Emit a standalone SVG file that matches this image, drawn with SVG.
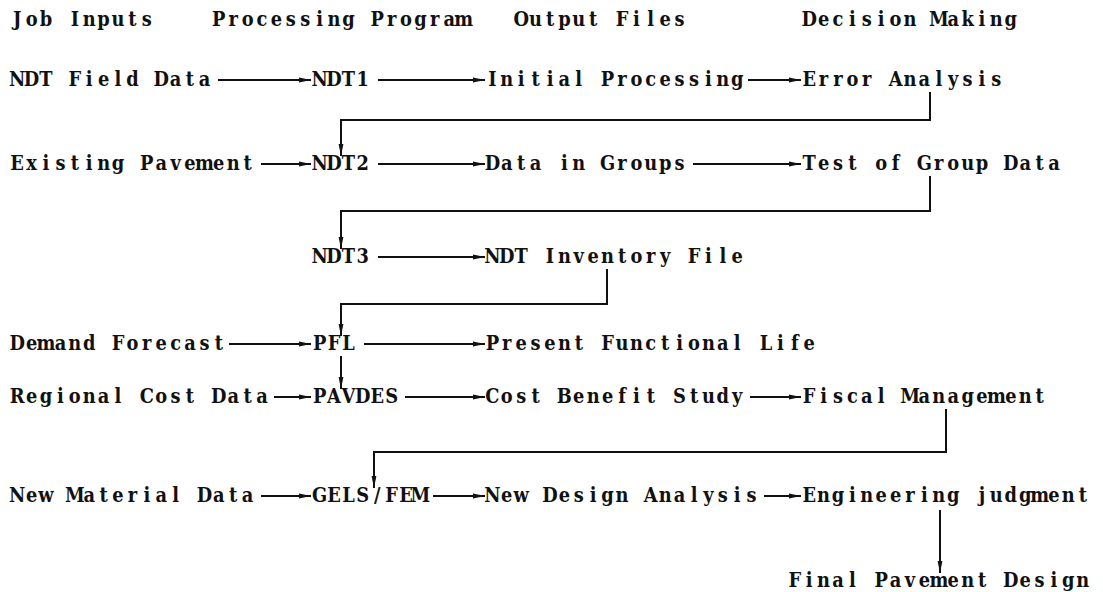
<svg xmlns="http://www.w3.org/2000/svg" width="1103" height="592" viewBox="0 0 1103 592">
<style>
text{font-family:"DejaVu Serif","Liberation Serif",serif;font-size:21px;font-weight:bold;fill:#111;text-anchor:middle}
.c{fill:none;stroke:#111;stroke-width:2}
</style>
<defs>
<marker id="ah" viewBox="0 0 12 6" refX="12" refY="3" markerWidth="12" markerHeight="6" markerUnits="userSpaceOnUse" orient="auto"><path d="M0,0.6 L12,3 L0,5.4 z" fill="#111"/></marker>
</defs>
<rect width="1103" height="592" fill="#fff"/>
<g transform="scale(0.85,1)">
<g id="headers">
<text y="26" x="20.2 37.2 54.1 71.1 88.0 104.9 121.9 138.8 155.8 172.7">Job Inputs</text>
<text y="26" x="257.4 274.4 291.3 308.2 325.2 342.1 359.1 376.0 392.9 409.9 426.8 443.8 460.7 477.6 494.6 511.5 528.5 545.4">Processing Program</text>
<text y="26" x="613.2 630.1 647.1 664.0 680.9 697.9 714.8 731.8 748.7 765.6 782.6 799.5">Output Files</text>
<text y="26" x="952.0 968.9 985.9 1002.8 1019.8 1036.7 1053.6 1070.6 1087.5 1104.5 1121.4 1138.4 1155.3 1172.2 1189.2">Decision Making</text>
</g>
<g id="n-ndt-field"><text y="86" x="20.2 37.2 54.1 71.1 88.0 104.9 121.9 138.8 155.8 172.7 189.6 206.6 223.5 240.5">NDT Field Data</text></g>
<g id="n-ndt1"><text y="86" x="376.0 392.9 409.9 426.8">NDT1</text></g>
<g id="n-initial"><text y="86" x="579.3 596.2 613.2 630.1 647.1 664.0 680.9 697.9 714.8 731.8 748.7 765.6 782.6 799.5 816.5 833.4 850.4 867.3">Initial Processing</text></g>
<g id="n-error"><text y="86" x="952.0 968.9 985.9 1002.8 1019.8 1036.7 1053.6 1070.6 1087.5 1104.5 1121.4 1138.4 1155.3 1172.2">Error Analysis</text></g>
<g id="n-existing"><text y="170" x="20.2 37.2 54.1 71.1 88.0 104.9 121.9 138.8 155.8 172.7 189.6 206.6 223.5 240.5 257.4 274.4 291.3">Existing Pavement</text></g>
<g id="n-ndt2"><text y="170" x="376.0 392.9 409.9 426.8">NDT2</text></g>
<g id="n-groups"><text y="170" x="579.3 596.2 613.2 630.1 647.1 664.0 680.9 697.9 714.8 731.8 748.7 765.6 782.6 799.5">Data in Groups</text></g>
<g id="n-test"><text y="170" x="952.0 968.9 985.9 1002.8 1019.8 1036.7 1053.6 1070.6 1087.5 1104.5 1121.4 1138.4 1155.3 1172.2 1189.2 1206.1 1223.1 1240.0">Test of Group Data</text></g>
<g id="n-ndt3"><text y="263" x="376.0 392.9 409.9 426.8">NDT3</text></g>
<g id="n-inventory"><text y="263" x="579.3 596.2 613.2 630.1 647.1 664.0 680.9 697.9 714.8 731.8 748.7 765.6 782.6 799.5 816.5 833.4 850.4 867.3">NDT Inventory File</text></g>
<g id="n-demand"><text y="350" x="20.2 37.2 54.1 71.1 88.0 104.9 121.9 138.8 155.8 172.7 189.6 206.6 223.5 240.5 257.4">Demand Forecast</text></g>
<g id="n-pfl"><text y="350" x="376.0 392.9 409.9">PFL</text></g>
<g id="n-present"><text y="350" x="579.3 596.2 613.2 630.1 647.1 664.0 680.9 697.9 714.8 731.8 748.7 765.6 782.6 799.5 816.5 833.4 850.4 867.3 884.2 901.2 918.1 935.1 952.0">Present Functional Life</text></g>
<g id="n-regional"><text y="403" x="20.2 37.2 54.1 71.1 88.0 104.9 121.9 138.8 155.8 172.7 189.6 206.6 223.5 240.5 257.4 274.4 291.3 308.2">Regional Cost Data</text></g>
<g id="n-pavdes"><text y="403" x="376.0 392.9 409.9 426.8 443.8 460.7">PAVDES</text></g>
<g id="n-cost"><text y="403" x="579.3 596.2 613.2 630.1 647.1 664.0 680.9 697.9 714.8 731.8 748.7 765.6 782.6 799.5 816.5 833.4 850.4 867.3">Cost Benefit Study</text></g>
<g id="n-fiscal"><text y="403" x="952.0 968.9 985.9 1002.8 1019.8 1036.7 1053.6 1070.6 1087.5 1104.5 1121.4 1138.4 1155.3 1172.2 1189.2 1206.1 1223.1">Fiscal Management</text></g>
<g id="n-material"><text y="502" x="20.2 37.2 54.1 71.1 88.0 104.9 121.9 138.8 155.8 172.7 189.6 206.6 223.5 240.5 257.4 274.4 291.3">New Material Data</text></g>
<g id="n-gels"><text y="502" x="376.0 392.9 409.9 426.8 443.8 460.7 477.6 494.6">GELS/FEM</text></g>
<g id="n-newdesign"><text y="502" x="579.3 596.2 613.2 630.1 647.1 664.0 680.9 697.9 714.8 731.8 748.7 765.6 782.6 799.5 816.5 833.4 850.4 867.3 884.2">New Design Analysis</text></g>
<g id="n-engineering"><text y="502" x="952.0 968.9 985.9 1002.8 1019.8 1036.7 1053.6 1070.6 1087.5 1104.5 1121.4 1138.4 1155.3 1172.2 1189.2 1206.1 1223.1 1240.0 1256.9 1273.9">Engineering judgment</text></g>
<g id="n-final"><text y="587" x="935.1 952.0 968.9 985.9 1002.8 1019.8 1036.7 1053.6 1070.6 1087.5 1104.5 1121.4 1138.4 1155.3 1172.2 1189.2 1206.1 1223.1 1240.0 1256.9 1273.9">Final Pavement Design</text></g>
</g>
<g id="connectors">
<path class="c" marker-end="url(#ah)" d="M218,80 H311"/>
<path class="c" marker-end="url(#ah)" d="M378,80 H485"/>
<path class="c" marker-end="url(#ah)" d="M748,80 H801"/>
<path class="c" marker-end="url(#ah)" d="M930,92 V120 H341 V156"/>
<path class="c" marker-end="url(#ah)" d="M261,164 H311"/>
<path class="c" marker-end="url(#ah)" d="M378,164 H485"/>
<path class="c" marker-end="url(#ah)" d="M693,164 H801"/>
<path class="c" marker-end="url(#ah)" d="M930,176 V211 H341 V249"/>
<path class="c" marker-end="url(#ah)" d="M378,257 H485"/>
<path class="c" marker-end="url(#ah)" d="M607,269 V304 H341 V336"/>
<path class="c" marker-end="url(#ah)" d="M229,344 H311"/>
<path class="c" marker-end="url(#ah)" d="M364,344 H485"/>
<path class="c" marker-end="url(#ah)" d="M341,356 V389"/>
<path class="c" marker-end="url(#ah)" d="M274,397 H311"/>
<path class="c" marker-end="url(#ah)" d="M405,397 H485"/>
<path class="c" marker-end="url(#ah)" d="M750,397 H801"/>
<path class="c" marker-end="url(#ah)" d="M946,409 V452 H374 V488"/>
<path class="c" marker-end="url(#ah)" d="M261,496 H311"/>
<path class="c" marker-end="url(#ah)" d="M433,496 H485"/>
<path class="c" marker-end="url(#ah)" d="M764,496 H801"/>
<path class="c" marker-end="url(#ah)" d="M940,510 V573"/>
</g>
</svg>
